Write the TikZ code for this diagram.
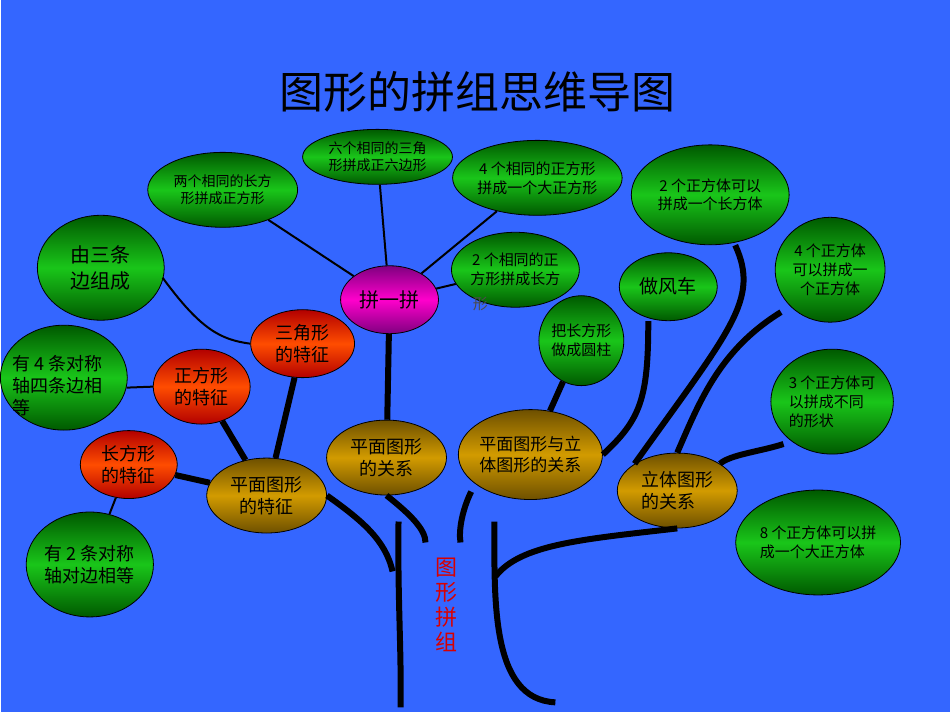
\documentclass[tikz,border=0pt]{standalone}
\usepackage{fontspec}
\setmainfont{Liberation Sans}
\newfontfamily\cjk{Noto Sans CJK SC}
\usetikzlibrary{shapes.geometric}
\begin{document}
\begin{tikzpicture}[x=1pt,y=-1pt,
 ell/.style={ellipse,draw=black,line width=0.8pt,inner sep=0pt,align=center,font=\cjk\fontsize{14}{17}\selectfont},
 grn/.style={ell,top color=green!35!black,bottom color=green!35!black,middle color=green!75!black!90},
 redn/.style={ell,top color=red!70!black,bottom color=red!70!black,middle color=orange!60!red},
 gold/.style={ell,top color={rgb,255:red,110;green,80;blue,0},bottom color={rgb,255:red,110;green,80;blue,0},middle color={rgb,255:red,210;green,155;blue,0}},
 mag/.style={ell,top color=magenta!50!black,bottom color=magenta!50!black,middle color=magenta!80!red},
 thin/.style={line width=2pt},
 thick/.style={line width=6pt},
]
\fill[fill={rgb,255:red,52;green,102;blue,255}] (0,0) rectangle (950,713);
\node[font=\cjk\fontsize{44}{50}\selectfont] (title) at (477,92) {图形的拼组思维导图};
\node[grn,minimum width=150pt,minimum height=75pt] (a1) at (222,190) {两个相同的长方\\形拼成正方形};
\node[grn,minimum width=150pt,minimum height=55pt] (a2) at (377,157) {六个相同的三角\\形拼成正六边形};
\node[grn,minimum width=168pt,minimum height=75pt,font=\cjk\fontsize{15}{19}\selectfont] (a3) at (537,178) {4 个相同的正方形\\拼成一个大正方形};
\node[grn,minimum width=127pt,minimum height=105pt,font=\cjk\fontsize{20}{26}\selectfont] (b1) at (100,268) {由三条\\边组成};
\node[mag,minimum width=98pt,minimum height=68pt,font=\cjk\fontsize{20}{24}\selectfont] (p) at (389,300) {拼一拼};
\node[grn,minimum width=128pt,minimum height=75pt,font=\cjk\fontsize{15}{19}\selectfont] (a4) at (515,270) {2 个相同的正\\方形拼成长方};
\node[font=\cjk\fontsize{15}{17}\selectfont,text=black!70] (a4x) at (480,304) {形};
\node[grn,minimum width=98pt,minimum height=68pt,font=\cjk\fontsize{19}{24}\selectfont] (w) at (668,287) {做风车};
\node[grn,minimum width=85pt,minimum height=90pt,font=\cjk\fontsize{15}{19}\selectfont] (c) at (581,341) {把长方形\\做成圆柱};
\node[grn,minimum width=158pt,minimum height=100pt,font=\cjk\fontsize{15}{19}\selectfont] (d1) at (710,195) {2 个正方体可以\\拼成一个长方体};
\node[grn,minimum width=110pt,minimum height=105pt,font=\cjk\fontsize{15}{19}\selectfont] (d2) at (830,270) {4 个正方体\\可以拼成一\\个正方体};
\node[redn,minimum width=104pt,minimum height=68pt,font=\cjk\fontsize{18}{22}\selectfont] (t) at (302,344) {三角形\\的特征};
\node[grn,minimum width=127pt,minimum height=105pt,font=\cjk\fontsize{18}{22}\selectfont] (b2) at (63,378) {\phantom{x}};
\node[font=\cjk\fontsize{18}{22}\selectfont,align=left,anchor=north west] (b2t) at (8,352) {有 4 条对称\\轴四条边相\\等};
\node[redn,minimum width=97pt,minimum height=75pt,font=\cjk\fontsize{18}{22}\selectfont] (s) at (201,387) {正方形\\的特征};
\node[grn,minimum width=110pt,minimum height=105pt,font=\cjk\fontsize{15}{19}\selectfont,align=left] (d3) at (832,402) {3 个正方体可\\以拼成不同\\的形状};
\node[gold,minimum width=120pt,minimum height=75pt,font=\cjk\fontsize{18}{22}\selectfont] (g1) at (386,458) {平面图形\\的关系};
\node[gold,minimum width=142pt,minimum height=90pt,font=\cjk\fontsize{17}{21}\selectfont] (g2) at (530,455) {平面图形与立\\体图形的关系};
\node[redn,minimum width=97pt,minimum height=68pt,font=\cjk\fontsize{18}{22}\selectfont] (r) at (128,465) {长方形\\的特征};
\node[gold,minimum width=120pt,minimum height=75pt,font=\cjk\fontsize{18}{22}\selectfont] (g3) at (266,496) {平面图形\\的特征};
\node[gold,minimum width=120pt,minimum height=75pt,font=\cjk\fontsize{18}{22}\selectfont,align=left] (g4) at (677,491) {立体图形\\的关系};
\node[grn,minimum width=150pt,minimum height=105pt,font=\cjk\fontsize{15}{19}\selectfont,align=left] (d4) at (818,543) {8 个正方体可以拼\\成一个大正方体};
\node[grn,minimum width=127pt,minimum height=105pt,font=\cjk\fontsize{18}{22}\selectfont] (b3) at (89,565) {有 2 条对称\\轴对边相等};
\node[text=red!85!black,font=\cjk\fontsize{22}{25}\selectfont,align=center] (lbl) at (446,605) {图\\形\\拼\\组};
% thin connectors
\draw[thin] (a1) -- (p);
\draw[thin] (a2) -- (p);
\draw[thin] (a3) -- (p);
\draw[thin] (a4) -- (p);
\draw[thin] (b1.east) ++(-2,10) coordinate (b1e) .. controls (200,330) and (220,340) .. (t.west);
\draw[thin] (b2.east) ++(-1,10) coordinate (b2e) -- (s.west);
\draw[thin] (b3) -- (r);
% thick connectors
\draw[thick] (p) -- (g1);
\draw[thick] (t) -- (g3);
\draw[thick] (s) -- (g3);
\draw[thick] (r) -- (g3);
\draw[thick] (c) -- (g2);
\draw[thick] (w.south) ++(-20,0) coordinate (ws) .. controls (648,400) and (640,420) .. (g2.east);
\draw[thick] (d1.south) ++(25,0) coordinate (d1s) .. controls (760,300) and (730,330) .. (g4.north west);
\draw[thick] (d2.south west) ++(-10,5) coordinate (d2s) .. controls (720,350) and (700,400) .. (g4.north);
\draw[thick] (d3.south west) ++(-5,5) coordinate (d3s) .. controls (760,452) and (730,455) .. (g4.north east);
% trunk
\coordinate (tl1) at (398,522); \coordinate (tl2) at (400,708);
\coordinate (tr1) at (494,522); \coordinate (tr2) at (555,703);
\draw[thick] (tl1) .. controls (397,600) and (401,650) .. (tl2);
\draw[thick] (g3.east) .. controls (360,520) and (385,540) .. (392,572);
\draw[thick] (g1.south) .. controls (410,515) and (425,530) .. (425,543);
\draw[thick] (g2.south west) ++(-8,5) coordinate (g2b) .. controls (462,510) and (458,530) .. (460,543);
\draw[thick] (tr1) .. controls (494,600) and (490,700) .. (tr2);
\draw[thick] (495,577) .. controls (520,545) and (580,540) .. (g4.south);
\end{tikzpicture}
\end{document}
